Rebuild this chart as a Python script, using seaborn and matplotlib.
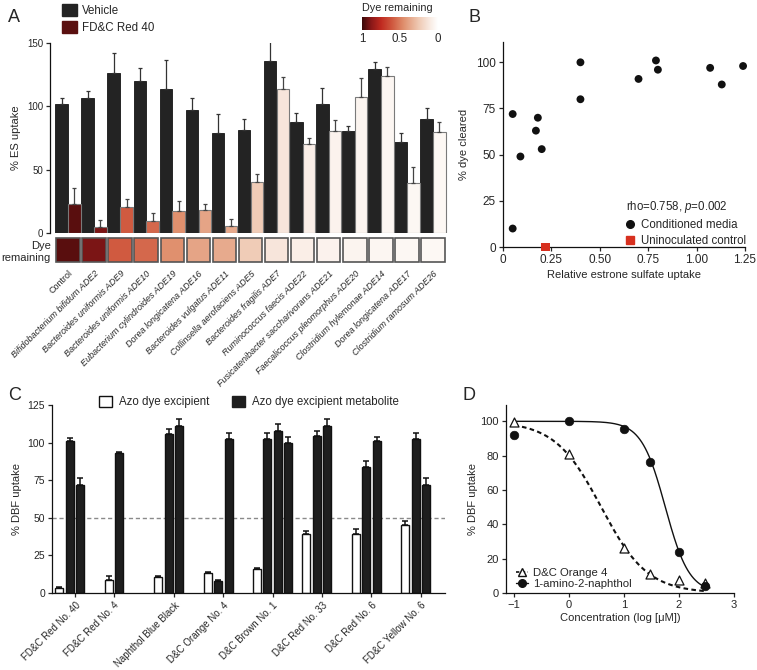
import numpy as np
import matplotlib
matplotlib.use("Agg")
import matplotlib.pyplot as plt
import seaborn as sns
from matplotlib.colors import LinearSegmentedColormap
from matplotlib.lines import Line2D
from matplotlib.patches import Patch

# ---------------- Panel A data ----------------
species = ["Control", "Bifidobacterium bifidum ADE2", "Bacteroides uniformis ADE9",
           "Bacteroides uniformis ADE10", "Eubacterium cylindroides ADE19",
           "Dorea longicatena ADE16", "Bacteroides vulgatus ADE11",
           "Collinsella aerofaciens ADE5", "Bacteroides fragilis ADE7",
           "Ruminococcus faecis ADE22", "Fusicatenibacter saccharivorans ADE21",
           "Faecalicoccus pleomorphus ADE20", "Clostridium hylemonae ADE14",
           "Dorea longicatena ADE17", "Clostridium ramosum ADE26"]
vehicle = [101.6, 106.3, 126.3, 120, 113.9, 97, 79.2, 81, 136, 87.9, 101.8, 80.5, 129.2, 71.8, 90]
vehicle_err = [5, 6, 15.5, 10, 22.6, 9.8, 14.8, 8.7, 17.4, 7, 12.9, 3.7, 6, 7, 9]
red40 = [22.9, 5, 20.3, 9.2, 17.1, 17.9, 5.8, 40.5, 113.4, 70.5, 80.3, 107.1, 123.9, 39.5, 80]
red40_err = [13, 5, 6.3, 6.6, 8.2, 5.3, 5, 5.8, 10, 4.2, 8.7, 15, 7.4, 12.5, 8]
dye_remaining = [0.95, 0.9, 0.6, 0.56, 0.45, 0.38, 0.36, 0.24, 0.13, 0.09, 0.07, 0.06, 0.05, 0.045, 0.04]
cbar_ticks = [1, 0.5, 0]

# ---------------- Panel B data ----------------
es_uptake = [0.05, 0.05, 0.09, 0.17, 0.18, 0.20, 0.40, 0.40, 0.70, 0.79, 0.80, 1.07, 1.13, 1.24]
dye_cleared = [10, 72, 49, 63, 70, 53, 100, 80, 91, 101, 96, 97, 88, 98]
control_uptake = [0.22]
control_cleared = [0]

# ---------------- Panel C data ----------------
azo_dyes = ["FD&C Red No. 40", "FD&C Red No. 4", "Naphthol Blue Black", "D&C Orange No. 4",
            "D&C Brown No. 1", "D&C Red No. 33", "D&C Red No. 6", "FD&C Yellow No. 6"]
excipient = [3.3, 8.4, 10.6, 13.3, 16.2, 38.9, 39.4, 45.4]
excipient_err = [1, 2.6, 0.6, 0.7, 0.6, 2.3, 3.1, 2.6]
metabolite = [[101, 72], [93], [106, 111], [8.2, 102.4], [102.4, 107.5, 100],
              [104.4, 111], [84, 101], [102.4, 72]]
metabolite_err = [[2, 4.4], [0.7], [2.8, 4.5], [0.6, 3.8], [3.8, 4.9, 4],
                  [3.6, 4.5], [4, 3], [3.8, 4.4]]

# ---------------- Panel D data ----------------
conc_log = [-1, 0, 1, 1.477, 2, 2.477]
orange4 = [99.4, 81, 26, 11, 7.4, 6]
aminonaphthol = [91.8, 100, 95.5, 76.3, 23.7, 3.9]
# four-parameter logistic fits: top, bottom, logIC50, hill slope
fit_orange4 = [100, 0, 0.583, 1.03]
fit_amino = [100, 0, 1.75, 2.0]

sns.set_style("ticks")
plt.rcParams['font.family'] = ['Liberation Sans', 'DejaVu Sans']
plt.rcParams['mathtext.fontset'] = 'custom'
plt.rcParams['mathtext.it'] = 'Liberation Sans:italic'
plt.rcParams['mathtext.rm'] = 'Liberation Sans'
plt.rcParams['axes.linewidth'] = 0.9
plt.rcParams['xtick.major.width'] = 0.9
plt.rcParams['ytick.major.width'] = 0.9
plt.rcParams['xtick.major.size'] = 3
plt.rcParams['ytick.major.size'] = 3
plt.rcParams['axes.edgecolor'] = '#111111'

W, H = 757, 670
fig = plt.figure(figsize=(W / 100, H / 100), dpi=100)


def add_ax(l, t, r, b):
    return fig.add_axes([l / W, 1 - b / H, (r - l) / W, (b - t) / H])


cmap = LinearSegmentedColormap.from_list(
    "dye", [(0.0, '#ffffff'), (0.1, '#f9ece4'), (0.25, '#efcab4'), (0.45, '#e0906e'),
            (0.6, '#d05a40'), (0.75, '#c02a20'), (0.88, '#8a1818'), (1.0, '#3a0808')])
dye_colors = [cmap(v) for v in dye_remaining]

# ================= Panel A =================
n = len(species)
idx = np.arange(n)
ax = add_ax(50, 43, 450, 233)
ax.bar(idx - 0.245, vehicle, width=0.48, color='#232323', edgecolor='#151515', lw=0.6)
ax.bar(idx + 0.245, red40, width=0.48, color=dye_colors, edgecolor='#7a7a7a', lw=0.8)
ax.errorbar(idx - 0.245, vehicle, yerr=[np.zeros(n), vehicle_err], fmt='none',
            ecolor='#333333', elinewidth=0.9, capsize=1.5, capthick=0.9)
ax.errorbar(idx + 0.245, red40, yerr=[np.zeros(n), red40_err], fmt='none',
            ecolor='#444444', elinewidth=0.9, capsize=1.5, capthick=0.9)
ax.set_xlim(-0.69, 14.65)
ax.set_ylim(0, 150)
ax.set_yticks([0, 50, 100, 150])
ax.set_xticks([])
for s in ['top', 'right', 'bottom']:
    ax.spines[s].set_visible(False)
ax.tick_params(axis='y', labelsize=7, pad=2)
ax.set_ylabel("% ES uptake", fontsize=8, labelpad=4)

hx = add_ax(50, 238, 450, 262)
hx.bar(idx, 1, width=0.9, bottom=0, color=dye_colors, edgecolor='#555555', lw=1.2, clip_on=False)
hx.set_xlim(-0.69, 14.65)
hx.set_ylim(0, 1)
for s in hx.spines.values():
    s.set_visible(False)
hx.set_yticks([])
hx.set_xticks(idx)
hx.set_xticklabels(species, rotation=45, ha='right', va='top', rotation_mode='anchor',
                   fontsize=6.5, style='italic')
hx.get_xticklabels()[0].set_style('normal')
hx.tick_params(axis='x', length=0, pad=5)
fig.text(51 / W, 1 - 252 / H, "Dye\nremaining", ha='right', va='center', fontsize=8,
         linespacing=1.15)

fig.legend(handles=[Patch(fc='#232323', ec='#232323'), Patch(fc='#5a1010', ec='#5a1010')],
           labels=["Vehicle", "FD&C Red 40"], loc='upper left',
           bbox_to_anchor=(62 / W, 1 - 4 / H), frameon=False, fontsize=8.3,
           handlelength=1.3, handleheight=1.2, handletextpad=0.4, labelspacing=0.35,
           borderpad=0, borderaxespad=0)

cax = add_ax(362, 17, 438, 30)
cax.imshow(np.linspace(1, 0, 256)[None, :], aspect='auto', cmap=cmap, vmin=0, vmax=1,
           extent=[0, 1, 0, 1])
cax.set_xticks([0, 0.5, 1])
cax.set_xticklabels([str(t) for t in cbar_ticks], fontsize=8.3)
cax.set_yticks([])
cax.tick_params(axis='x', length=0, pad=2)
for s in cax.spines.values():
    s.set_visible(False)
fig.text(362 / W, 1 - 8 / H, "Dye remaining", va='center', fontsize=7.8)
fig.text(8 / W, 1 - 17 / H, "A", fontsize=13, va='center')

# ================= Panel B =================
bx = add_ax(503, 42, 745, 247)
sns.scatterplot(x=es_uptake, y=dye_cleared, ax=bx, color='#111111', s=32, edgecolor='none',
                legend=False, clip_on=False, zorder=3)
sns.scatterplot(x=control_uptake, y=control_cleared, ax=bx, color='#d7301f', marker='s', s=36,
                edgecolor='none', legend=False, clip_on=False, zorder=4)
bx.set_xlim(0, 1.25)
bx.set_ylim(0, 111)
bx.set_xticks([0, 0.25, 0.5, 0.75, 1.0, 1.25])
bx.set_xticklabels(["0", "0.25", "0.50", "0.75", "1.00", "1.25"])
bx.set_yticks([0, 25, 50, 75, 100])
bx.tick_params(labelsize=8.5, pad=2)
sns.despine(ax=bx)
bx.set_xlabel("Relative estrone sulfate uptake", fontsize=8, labelpad=3)
bx.set_ylabel("% dye cleared", fontsize=8, labelpad=5)
legB = bx.legend(handles=[Line2D([], [], marker='o', ls='none', color='#111111', ms=5.5),
                          Line2D([], [], marker='s', ls='none', color='#d7301f', ms=5.5)],
                 labels=["Conditioned media", "Uninoculated control"],
                 title=r"rho=0.758, $\it{p}$=0.002", title_fontsize=8.3, fontsize=8.3,
                 loc='upper left', bbox_to_anchor=(620 / W, 1 - 193 / H),
                 bbox_transform=fig.transFigure, frameon=False, handlelength=0.8,
                 handletextpad=0.5, labelspacing=0.35, borderpad=0, alignment='left')
fig.text(468 / W, 1 - 17 / H, "B", fontsize=13, va='center')

# ================= Panel C =================
cx = add_ax(52, 405, 445, 593)
group_step = 4.7
gx = np.arange(len(azo_dyes)) * group_step
cx.axhline(50, color='#8a8a8a', ls=(0, (3, 2)), lw=1, zorder=0)
cx.bar(gx, excipient, width=0.76, color='white', edgecolor='#111111', lw=1.0, zorder=2)
cx.errorbar(gx, excipient, yerr=[np.zeros(len(gx)), excipient_err], fmt='none',
            ecolor='#111111', elinewidth=1.1, capsize=2.2, capthick=1.1, zorder=3)
mx, my, me = [], [], []
for g, (vals, errs) in enumerate(zip(metabolite, metabolite_err)):
    for k, (v, e) in enumerate(zip(vals, errs)):
        mx.append(gx[g] + 1 + k)
        my.append(v)
        me.append(e)
cx.bar(mx, my, width=0.76, color='#1e1e1e', edgecolor='#111111', lw=1.0, zorder=2)
cx.errorbar(mx, my, yerr=[np.zeros(len(mx)), me], fmt='none', ecolor='#111111',
            elinewidth=1.1, capsize=2.2, capthick=1.1, zorder=3)
cx.set_xlim(-0.71, 36.7)
cx.set_ylim(0, 125)
cx.set_yticks([0, 25, 50, 75, 100, 125])
tick_off = [1.5, 0.5, 1.5, 1.5, 1.5, 1.5, 1.5, 1.5]
cx.set_xticks(gx + np.array(tick_off))
cx.set_xticklabels(azo_dyes, rotation=45, ha='right', va='top', rotation_mode='anchor', fontsize=7)
cx.tick_params(axis='y', labelsize=7.5, pad=2)
cx.tick_params(axis='x', pad=2)
sns.despine(ax=cx)
cx.set_ylabel("% DBF uptake", fontsize=8, labelpad=4)
fig.legend(handles=[Patch(fc='white', ec='#111111', lw=1), Patch(fc='#1e1e1e', ec='#1e1e1e')],
           labels=["Azo dye excipient", "Azo dye excipient metabolite"], ncol=2,
           loc='upper left', bbox_to_anchor=(99 / W, 1 - 396 / H), frameon=False, fontsize=8.3,
           handlelength=1.15, handleheight=1.1, handletextpad=0.55, columnspacing=2.0,
           borderpad=0, borderaxespad=0)
fig.text(8 / W, 1 - 396 / H, "C", fontsize=13, va='center')

# ================= Panel D =================
dx = add_ax(506, 405, 734, 593)


def logistic(x, p):
    top, bottom, c, h = p
    return bottom + (top - bottom) / (1 + 10 ** ((x - c) * h))


xs = np.linspace(-1, 2.5, 300)
sns.lineplot(x=xs, y=logistic(xs, fit_orange4), ax=dx, color='#111111', lw=1.5,
             linestyle=(0, (2.2, 1.6)))
sns.lineplot(x=xs, y=logistic(xs, fit_amino), ax=dx, color='#111111', lw=1.0)
sns.scatterplot(x=conc_log, y=orange4, ax=dx, marker='^', color='white', edgecolor='#111111',
                linewidth=0.9, s=42, zorder=4, clip_on=False, legend=False)
sns.scatterplot(x=conc_log, y=aminonaphthol, ax=dx, marker='o', color='#111111',
                edgecolor='#111111', s=38, zorder=4, clip_on=False, legend=False)
dx.set_xlim(-1.15, 3)
dx.set_ylim(0, 109.5)
dx.set_xticks([-1, 0, 1, 2, 3])
dx.set_yticks([0, 20, 40, 60, 80, 100])
dx.tick_params(labelsize=8, pad=2)
sns.despine(ax=dx)
dx.set_xlabel("Concentration (log [μM])", fontsize=8, labelpad=2)
dx.set_ylabel("% DBF uptake", fontsize=8, labelpad=2)
dx.legend(handles=[Line2D([], [], marker='^', mfc='white', mec='#111111', color='#111111',
                          ls=(0, (2, 1.5)), lw=1.2, ms=6),
                   Line2D([], [], marker='o', mfc='#111111', mec='#111111', color='#111111',
                          ls='-', lw=1.0, ms=5.5)],
          labels=["D&C Orange 4", "1-amino-2-naphthol"], loc='upper left',
          bbox_to_anchor=(510 / W, 1 - 562 / H), bbox_transform=fig.transFigure,
          frameon=False, fontsize=8.2, handlelength=1.1, handletextpad=0.4,
          labelspacing=0.15, borderpad=0)
fig.text(462 / W, 1 - 396 / H, "D", fontsize=13, va='center')

fig.savefig("out.png", dpi=100)
